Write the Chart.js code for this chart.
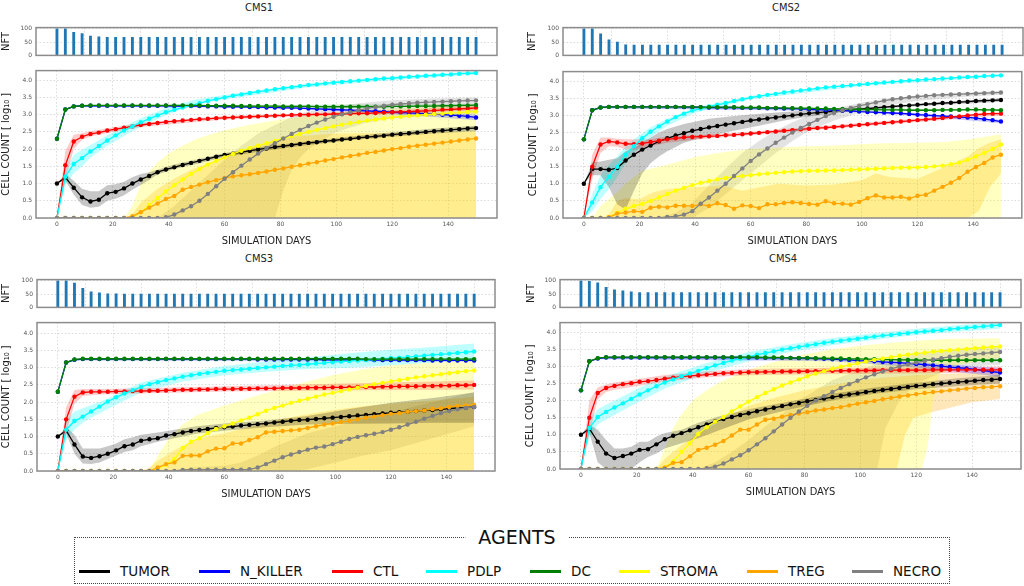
<!DOCTYPE html>
<html>
<head>
<meta charset="utf-8">
<script src="https://cdn.jsdelivr.net/npm/chart.js@4.4.1/dist/chart.umd.min.js"></script>
<style>
  body { margin: 0; width: 1024px; height: 586px; position: relative; background: #fff; overflow: hidden; }
  canvas { position: absolute; }
  .ttl { position: absolute; transform: translate(-50%, -50%); white-space: nowrap; color: #222;
         font-family: "Liberation Sans Narrow", "DejaVu Sans Condensed", Roboto, sans-serif; font-size: 11px; }
  #legend { position: absolute; left: 74px; top: 537px; width: 876px; height: 47px; border: 1px dotted #444; box-sizing: border-box; }
  #legendTitle { position: absolute; left: 517px; top: 537px; transform: translate(-50%, -50%); background: #fff;
                 padding: 0 13px; font-family: "DejaVu Sans"; font-size: 19px; color: #111; }
  .lgLine { position: absolute; width: 31px; height: 3px; }
  .lgText { position: absolute; transform: translateY(-50%); font-family: "DejaVu Sans"; font-size: 13.5px; color: #111; white-space: nowrap; }
</style>
</head>
<body>
<div id="legend"></div>
<div id="legendTitle">AGENTS</div>
<script>
// simulation days (every 3 days)
const days = [0,3,6,9,12,15,18,21,24,27,30,33,36,39,42,45,48,51,54,57,60,63,66,69,72,75,78,81,84,87,90,93,96,99,102,105,108,111,114,117,120,123,126,129,132,135,138,141,144,147,150];
const xTicks = [0,20,40,60,80,100,120,140];
const yTicks = [0,0.5,1,1.5,2,2.5,3,3.5,4];
const nftTicks = [0,50,100];

const names  = ['TUMOR','N_KILLER','CTL','PDLP','DC','STROMA','TREG','NECRO'];
const colors = ['#000000','#0000ff','#ff0000','#00ffff','#008000','#ffff00','#ffa500','#808080'];
const bandAlpha = [0.22,0.2,0.2,0.25,0.2,0.24,0.27,0.22];

// ---------- CMS1 ----------
const cms1Nft = [100,100,87,82,73,70,68,68,68,68, 68,68,68,68,68,68,68,68,68,68, 68,68,68,68,68,68,68,68,68,68, 68,68,68,68,68,68,68,68,68,68, 68,68,68,68,68,68,68,68,68,68,68];
const cms1Tumor = [1.00,1.18,0.88,0.60,0.48,0.53,0.72,0.76,0.86,1.00, 1.12,1.22,1.33,1.41,1.47,1.54,1.60,1.66,1.72,1.78, 1.83,1.87,1.91,1.95,1.99,2.02,2.06,2.09,2.12,2.15, 2.18,2.20,2.23,2.25,2.28,2.30,2.33,2.35,2.37,2.39, 2.42,2.44,2.46,2.48,2.50,2.52,2.54,2.56,2.58,2.60,2.61];
const cms1Nk = [2.30,3.15,3.24,3.26,3.26,3.26,3.26,3.26,3.26,3.26, 3.26,3.26,3.26,3.26,3.25,3.25,3.25,3.25,3.24,3.24, 3.23,3.23,3.23,3.22,3.22,3.21,3.21,3.20,3.20,3.19, 3.18,3.17,3.16,3.15,3.14,3.13,3.12,3.11,3.10,3.09, 3.07,3.06,3.05,3.04,3.03,3.02,3.00,2.99,2.97,2.95,2.92];
const cms1Ctl = [0.00,1.53,2.22,2.36,2.44,2.48,2.54,2.58,2.62,2.66, 2.70,2.73,2.76,2.79,2.81,2.83,2.85,2.87,2.88,2.90, 2.91,2.92,2.93,2.94,2.95,2.96,2.97,2.98,2.99,3.00, 3.00,3.01,3.01,3.02,3.02,3.03,3.04,3.04,3.05,3.06, 3.07,3.08,3.09,3.10,3.11,3.12,3.14,3.15,3.17,3.18,3.20];
const cms1Pdlp = [0.00,1.20,1.57,1.74,1.93,2.09,2.25,2.40,2.54,2.66, 2.78,2.88,2.98,3.07,3.14,3.21,3.27,3.33,3.40,3.45, 3.50,3.55,3.59,3.63,3.67,3.70,3.74,3.77,3.80,3.83, 3.86,3.88,3.91,3.93,3.95,3.97,3.99,4.01,4.03,4.05, 4.06,4.08,4.10,4.11,4.13,4.14,4.16,4.17,4.19,4.20,4.21];
const cms1Dc = [2.30,3.15,3.24,3.26,3.27,3.27,3.27,3.27,3.27,3.27, 3.27,3.27,3.27,3.27,3.27,3.27,3.27,3.27,3.26,3.26, 3.26,3.26,3.25,3.25,3.25,3.25,3.25,3.24,3.24,3.24, 3.24,3.23,3.23,3.23,3.23,3.23,3.23,3.23,3.23,3.23, 3.24,3.24,3.24,3.25,3.25,3.25,3.26,3.26,3.27,3.27,3.28];
const cms1Stroma = [0,0,0,0,0,0,0,0,0,0.02, 0.17,0.38,0.58,0.77,0.95,1.12,1.28,1.42,1.55,1.66, 1.76,1.86,1.95,2.03,2.10,2.17,2.24,2.31,2.38,2.44, 2.50,2.56,2.61,2.66,2.71,2.75,2.79,2.83,2.86,2.89, 2.92,2.94,2.96,2.98,3.00,3.02,3.03,3.05,3.06,3.08,3.09];
const cms1Treg = [0,0,0,0,0,0,0,0,0,0.05, 0.17,0.30,0.42,0.55,0.64,0.82,0.90,0.97,1.04,1.10, 1.16,1.21,1.24,1.27,1.31,1.35,1.40,1.44,1.49,1.53, 1.58,1.62,1.67,1.71,1.76,1.80,1.84,1.89,1.92,1.96, 2.00,2.03,2.07,2.10,2.13,2.16,2.19,2.22,2.25,2.28,2.31];
const cms1Necro = [0,0,0,0,0,0,0,0,0,0, 0,0,0,0.02,0.10,0.22,0.34,0.50,0.70,0.92, 1.14,1.33,1.52,1.70,1.87,2.03,2.17,2.31,2.44,2.56, 2.67,2.77,2.86,2.94,3.01,3.07,3.13,3.18,3.22,3.26, 3.29,3.31,3.33,3.35,3.36,3.37,3.38,3.39,3.40,3.41,3.41];
// spread bands: [day, low, high]
const cms1TumorBand = [[0,1,1],[3,1.08,1.28],[6,0.68,1.08],[9,0.38,0.85],[12,0.3,0.78],[15,0.33,0.78],[18,0.5,0.95],[21,0.56,0.98],[24,0.66,1.05],[27,0.82,1.18],[30,0.96,1.28],[33,1.1,1.33],[36,1.26,1.4],[42,1.42,1.55],[50,1.57,1.7],[60,1.77,1.89],[75,1.96,2.08],[90,2.12,2.23],[105,2.26,2.37],[120,2.36,2.49],[135,2.45,2.6],[150,2.52,2.68]];
const cms1NkBand = [[0,2.3,2.3],[3,3.13,3.17],[6,3.22,3.26],[60,3.21,3.25],[90,3.15,3.21],[120,3.02,3.12],[150,2.84,3.0]];
const cms1CtlBand = [[0,0,0],[3,1.1,1.95],[6,2.0,2.42],[9,2.27,2.46],[12,2.37,2.52],[15,2.42,2.56],[30,2.64,2.76],[60,2.86,2.96],[90,2.96,3.04],[120,3.02,3.12],[150,3.13,3.27]];
const cms1PdlpBand = [[0,0,0],[3,0.95,1.4],[6,1.3,1.82],[9,1.5,1.98],[12,1.75,2.12],[18,2.1,2.4],[24,2.38,2.66],[30,2.65,2.9],[40,3.02,3.22],[50,3.3,3.45],[60,3.45,3.57],[90,3.8,3.91],[120,4.01,4.11],[150,4.16,4.26]];
const cms1DcBand = [[0,2.3,2.3],[3,3.13,3.17],[6,3.22,3.26],[150,3.25,3.31]];
const cms1StromaBand = [[24,0,0],[27,0,0.35],[30,0,1.0],[33,0,1.35],[36,0,1.62],[40,0,1.88],[45,0,2.1],[50,0,2.3],[60,0,2.55],[70,0,2.72],[80,0,2.86],[90,0,2.97],[100,0,3.06],[110,0,3.13],[120,0,3.18],[135,0,3.22],[150,0,3.25]];
const cms1TregBand = [[24,0,0],[27,0,0.1],[30,0,0.45],[36,0,0.85],[42,0,1.15],[48,0,1.4],[54,0,1.6],[60,0,1.78],[66,0,1.93],[72,0,2.08],[78,0,2.22],[84,0,2.36],[100,0,2.45],[120,0,2.47],[150,0,2.52]];
const cms1NecroBand = [[36,0,0],[42,0,0.35],[48,0,0.8],[54,0,1.25],[60,0,1.7],[66,0,2.1],[72,0,2.45],[78,0,2.7],[81,0.8,2.82],[84,1.4,2.95],[87,1.75,3.03],[90,2.0,3.1],[100,2.5,3.25],[110,2.75,3.35],[120,2.9,3.42],[135,2.97,3.47],[150,3.0,3.5]];

// ---------- CMS2 ----------
const cms2Nft = [100,100,81,59,50,40,39,39,39,39, 39,39,39,39,39,39,39,39,39,39, 39,39,39,39,39,39,39,39,39,39, 39,39,39,39,39,39,39,39,39,39, 39,39,39,39,39,39,39,39,39,39,39];
const cms2Tumor = [1.00,1.43,1.43,1.41,1.46,1.68,1.85,2.00,2.12,2.24, 2.33,2.41,2.48,2.55,2.60,2.65,2.69,2.73,2.77,2.81, 2.85,2.88,2.91,2.94,2.97,3.00,3.03,3.06,3.08,3.10, 3.12,3.14,3.16,3.18,3.20,3.22,3.24,3.26,3.28,3.29, 3.31,3.33,3.34,3.36,3.37,3.39,3.40,3.42,3.43,3.44,3.45];
const cms2Nk = [2.30,3.15,3.23,3.25,3.25,3.25,3.25,3.25,3.25,3.25, 3.25,3.25,3.24,3.24,3.24,3.23,3.23,3.23,3.23,3.22, 3.22,3.22,3.21,3.21,3.20,3.20,3.19,3.18,3.17,3.16, 3.15,3.14,3.13,3.11,3.10,3.09,3.08,3.07,3.06,3.04, 3.02,3.01,2.99,2.98,2.97,2.95,2.94,2.92,2.89,2.86,2.82];
const cms2Ctl = [0.00,1.50,2.15,2.24,2.21,2.17,2.16,2.18,2.22,2.26, 2.30,2.33,2.36,2.37,2.38,2.39,2.40,2.42,2.43,2.45, 2.47,2.49,2.51,2.53,2.55,2.57,2.59,2.61,2.63,2.64, 2.66,2.68,2.70,2.72,2.74,2.76,2.78,2.80,2.82,2.84, 2.86,2.88,2.90,2.92,2.95,2.97,3.00,3.02,3.04,3.05,3.05];
const cms2Pdlp = [0.00,0.45,0.90,1.20,1.50,1.85,2.10,2.33,2.52,2.68, 2.82,2.95,3.05,3.14,3.20,3.26,3.31,3.36,3.42,3.47, 3.52,3.56,3.60,3.63,3.67,3.70,3.73,3.76,3.79,3.82, 3.84,3.86,3.88,3.90,3.92,3.94,3.96,3.98,4.00,4.02, 4.03,4.05,4.06,4.08,4.09,4.11,4.12,4.13,4.15,4.16,4.17];
const cms2Dc = [2.30,3.15,3.23,3.25,3.25,3.25,3.25,3.25,3.25,3.25, 3.25,3.25,3.25,3.25,3.24,3.24,3.24,3.24,3.24,3.23, 3.23,3.23,3.22,3.22,3.22,3.21,3.21,3.21,3.20,3.20, 3.19,3.19,3.18,3.18,3.17,3.17,3.16,3.16,3.16,3.15, 3.15,3.15,3.15,3.16,3.16,3.16,3.17,3.17,3.16,3.16,3.15];
const cms2Stroma = [0,0,0,0.02,0.15,0.27,0.35,0.41,0.50,0.60, 0.70,0.80,0.88,0.96,1.03,1.08,1.13,1.17,1.20,1.23, 1.25,1.28,1.30,1.32,1.34,1.36,1.37,1.38,1.38,1.39, 1.39,1.40,1.41,1.42,1.43,1.44,1.45,1.46,1.47,1.47, 1.48,1.49,1.51,1.53,1.57,1.62,1.70,1.80,1.90,2.02,2.15];
const cms2Treg = [0,0,0,0.02,0.13,0.16,0.20,0.18,0.30,0.33, 0.31,0.36,0.36,0.35,0.40,0.35,0.43,0.38,0.27,0.37, 0.35,0.29,0.40,0.40,0.44,0.46,0.44,0.41,0.39,0.49, 0.43,0.42,0.39,0.47,0.58,0.66,0.60,0.60,0.62,0.57, 0.65,0.68,0.80,0.91,1.03,1.17,1.35,1.49,1.61,1.77,1.85];
const cms2Necro = [0,0,0,0,0,0,0,0,0,0, 0.03,0.05,0.10,0.20,0.42,0.60,0.80,1.00,1.23,1.45, 1.67,1.86,2.03,2.20,2.35,2.50,2.63,2.75,2.87,2.98, 3.07,3.15,3.22,3.28,3.33,3.38,3.43,3.47,3.50,3.53, 3.55,3.57,3.59,3.60,3.61,3.62,3.63,3.64,3.65,3.66,3.67];
const cms2TumorBand = [[0,1,1],[3,1.25,1.62],[6,1.25,1.65],[9,0.9,1.7],[12,0.4,1.75],[15,0.25,1.95],[18,0.8,2.05],[21,1.3,2.2],[24,1.6,2.35],[27,1.8,2.5],[30,1.95,2.6],[36,2.2,2.75],[45,2.4,2.9],[54,2.55,2.98],[63,2.7,3.05],[72,2.85,3.1],[81,2.97,3.15],[90,3.07,3.18],[100,3.15,3.22],[120,3.27,3.35],[150,3.4,3.5]];
const cms2NkBand = [[0,2.3,2.3],[3,3.13,3.17],[6,3.21,3.25],[90,3.13,3.19],[120,2.98,3.06],[150,2.77,2.87]];
const cms2CtlBand = [[0,0,0],[3,1.15,1.85],[6,1.9,2.35],[9,2.1,2.35],[12,2.08,2.32],[15,2.0,2.3],[18,2.0,2.3],[24,2.1,2.3],[30,2.2,2.38],[45,2.33,2.44],[60,2.42,2.52],[90,2.62,2.72],[120,2.81,2.91],[150,3.0,3.1]];
const cms2PdlpBand = [[0,0,0],[3,0.2,0.7],[6,0.55,1.25],[9,0.85,1.55],[12,1.2,1.8],[15,1.6,2.1],[18,1.9,2.3],[24,2.35,2.65],[30,2.7,2.9],[40,3.08,3.22],[60,3.47,3.57],[100,3.86,3.94],[150,4.13,4.21]];
const cms2DcBand = [[0,2.3,2.3],[3,3.13,3.17],[6,3.21,3.25],[150,3.12,3.18]];
const cms2StromaBand = [[3,0,0],[6,0,0.35],[9,0,0.55],[12,0,0.75],[15,0,1.0],[18,0,1.2],[21,0,1.38],[27,0,1.5],[33,0,1.62],[40,0,1.78],[50,0,1.92],[60,0,2.02],[75,0,2.08],[90,0,2.12],[105,0,2.18],[120,0,2.2],[130,0,2.22],[140,0,2.32],[150,0,2.45]];
const cms2TregBand = [[6,0,0],[9,0,0.1],[12,0,0.5],[15,0,0.58],[20,0,0.55],[25,0,0.75],[30,0,0.85],[40,0,0.9],[50,0,0.95],[57,0,0.8],[63,0,0.9],[70,0,1.0],[80,0,0.95],[90,0,0.98],[100,0,1.1],[105,0,1.3],[110,0,1.2],[120,0,1.15],[130,0,1.5],[138,0,1.8],[142,0.2,2.05],[146,0.9,2.2],[150,1.3,2.3]];
const cms2NecroBand = [[27,0,0],[33,0,0.15],[39,0,0.45],[45,0.3,0.95],[51,0.7,1.45],[57,1.1,1.9],[63,1.5,2.25],[69,1.9,2.55],[75,2.25,2.8],[81,2.55,3.0],[90,2.85,3.2],[100,3.1,3.38],[110,3.3,3.5],[120,3.42,3.58],[135,3.53,3.66],[150,3.6,3.72]];

// ---------- CMS3 ----------
const cms3Nft = [100,100,92,72,59,55,51,51,50,50, 50,50,50,50,50,50,50,50,50,50, 50,50,50,50,50,50,50,50,50,50, 50,50,50,50,50,50,50,50,50,50, 50,50,50,50,50,50,50,50,50,50,50];
const cms3Tumor = [1.00,1.18,0.77,0.42,0.38,0.43,0.50,0.60,0.72,0.77, 0.88,0.92,0.95,1.03,1.07,1.12,1.16,1.19,1.22,1.25, 1.27,1.29,1.32,1.34,1.36,1.38,1.41,1.43,1.46,1.48, 1.49,1.51,1.53,1.55,1.57,1.59,1.61,1.63,1.65,1.67, 1.69,1.71,1.72,1.74,1.76,1.77,1.79,1.81,1.83,1.84,1.86];
const cms3Nk = [2.30,3.15,3.23,3.25,3.25,3.25,3.25,3.25,3.25,3.25, 3.25,3.25,3.25,3.25,3.25,3.25,3.25,3.25,3.25,3.25, 3.25,3.25,3.25,3.25,3.24,3.24,3.24,3.24,3.24,3.24, 3.24,3.24,3.23,3.23,3.23,3.23,3.23,3.23,3.22,3.22, 3.22,3.22,3.22,3.22,3.22,3.21,3.21,3.21,3.21,3.21,3.21];
const cms3Ctl = [0.00,1.50,2.16,2.28,2.30,2.30,2.30,2.31,2.31,2.32, 2.32,2.33,2.33,2.34,2.35,2.36,2.36,2.37,2.37,2.38, 2.38,2.38,2.39,2.39,2.40,2.40,2.40,2.41,2.41,2.41, 2.42,2.42,2.42,2.43,2.43,2.43,2.44,2.44,2.44,2.45, 2.45,2.46,2.46,2.46,2.47,2.47,2.48,2.48,2.49,2.49,2.50];
const cms3Pdlp = [0.00,1.20,1.45,1.58,1.73,1.87,2.02,2.14,2.25,2.35, 2.44,2.52,2.58,2.64,2.69,2.74,2.78,2.82,2.85,2.88, 2.91,2.93,2.95,2.97,2.99,3.01,3.03,3.05,3.07,3.08, 3.10,3.12,3.14,3.16,3.18,3.19,3.21,3.22,3.24,3.26, 3.28,3.29,3.31,3.33,3.35,3.37,3.39,3.41,3.43,3.45,3.47];
const cms3Dc = [2.30,3.15,3.24,3.26,3.26,3.26,3.26,3.26,3.26,3.26, 3.26,3.26,3.26,3.26,3.26,3.26,3.26,3.26,3.26,3.26, 3.26,3.26,3.26,3.26,3.26,3.26,3.26,3.26,3.26,3.26, 3.26,3.26,3.26,3.26,3.26,3.26,3.26,3.25,3.25,3.25, 3.25,3.25,3.25,3.25,3.25,3.25,3.25,3.25,3.25,3.25,3.25];
const cms3Stroma = [0,0,0,0,0,0,0,0,0,0, 0,0,0.08,0.18,0.35,0.67,0.85,0.95,1.10,1.22, 1.30,1.38,1.47,1.55,1.65,1.75,1.83,1.90,1.98,2.04, 2.10,2.16,2.22,2.27,2.32,2.37,2.42,2.47,2.52,2.56, 2.60,2.64,2.68,2.72,2.75,2.78,2.81,2.84,2.87,2.90,2.92];
const cms3Treg = [0,0,0,0,0,0,0,0,0,0, 0,0,0.10,0.20,0.25,0.44,0.45,0.45,0.57,0.65, 0.66,0.80,0.80,0.90,0.98,1.12,1.14,1.16,1.18,1.20, 1.25,1.30,1.35,1.38,1.42,1.45,1.50,1.55,1.58,1.62, 1.66,1.68,1.72,1.74,1.76,1.80,1.82,1.86,1.89,1.90,1.92];
const cms3Necro = [0,0,0,0,0,0,0,0,0,0, 0,0,0,0,0,0.03,0.04,0.04,0.04,0.04, 0.04,0.04,0.04,0.05,0.10,0.20,0.30,0.40,0.48,0.55, 0.62,0.68,0.71,0.78,0.85,0.93,0.99,1.04,1.08,1.13, 1.20,1.27,1.35,1.43,1.52,1.60,1.68,1.74,1.79,1.83,1.86];
const cms3TumorBand = [[0,1,1],[3,1.08,1.28],[6,0.5,1.05],[9,0.22,0.65],[12,0.2,0.65],[15,0.25,0.65],[18,0.35,0.72],[21,0.45,0.8],[24,0.55,0.92],[27,0.6,0.98],[30,0.72,1.05],[36,0.85,1.12],[42,0.95,1.2],[50,1.08,1.3],[60,1.17,1.38],[75,1.27,1.47],[90,1.35,1.6],[105,1.37,1.8],[120,1.38,1.98],[135,1.4,2.12],[150,1.4,2.28]];
const cms3NkBand = [[0,2.3,2.3],[3,3.13,3.17],[6,3.21,3.25],[150,3.17,3.25]];
const cms3CtlBand = [[0,0,0],[3,1.1,1.85],[6,1.95,2.35],[9,2.18,2.38],[15,2.22,2.38],[30,2.25,2.4],[60,2.31,2.46],[90,2.33,2.52],[120,2.35,2.57],[150,2.37,2.63]];
const cms3PdlpBand = [[0,0,0],[3,0.9,1.5],[6,1.2,1.72],[9,1.4,1.82],[12,1.55,1.92],[18,1.8,2.1],[24,2.05,2.35],[30,2.28,2.57],[45,2.6,2.85],[60,2.78,3.05],[75,2.88,3.18],[90,2.96,3.3],[105,3.0,3.42],[120,3.07,3.52],[135,3.15,3.6],[150,3.22,3.7]];
const cms3DcBand = [[0,2.3,2.3],[3,3.13,3.17],[6,3.22,3.26],[150,3.22,3.28]];
const cms3StromaBand = [[30,0,0],[33,0,0.05],[36,0,0.45],[40,0,0.95],[45,0,1.35],[50,0,1.62],[60,0,1.9],[70,0,2.15],[80,0,2.38],[90,0,2.6],[100,0,2.8],[110,0,2.95],[120,0,3.07],[135,0,3.15],[150,0,3.2]];
const cms3TregBand = [[30,0,0],[33,0,0.1],[36,0,0.3],[42,0,0.6],[48,0,0.85],[54,0,1.0],[60,0,1.1],[70,0,1.3],[80,0,1.5],[90,0,1.65],[100,0,1.78],[110,0,1.88],[120,0,1.95],[135,0,2.05],[150,0,2.15]];
const cms3NecroBand = [[42,0,0],[48,0,0.1],[60,0,0.15],[66,0,0.25],[72,0,0.45],[78,0,0.7],[84,0,0.9],[90,0.05,1.1],[100,0.25,1.3],[110,0.45,1.5],[120,0.6,1.7],[135,0.95,2.0],[150,1.3,2.3]];

// ---------- CMS4 ----------
const cms4Nft = [100,98,93,76,66,63,59,56,56,56, 56,56,56,56,56,56,56,56,56,56, 56,56,56,56,56,56,56,56,56,56, 56,56,56,56,56,56,56,56,56,56, 56,56,56,56,56,56,56,56,56,56,56];
const cms4Tumor = [1.00,1.18,0.80,0.45,0.32,0.38,0.45,0.56,0.58,0.72, 0.87,0.97,1.05,1.13,1.22,1.30,1.39,1.46,1.52,1.58, 1.63,1.69,1.74,1.79,1.84,1.89,1.93,1.98,2.02,2.06, 2.10,2.14,2.18,2.21,2.25,2.28,2.31,2.34,2.37,2.40, 2.43,2.45,2.48,2.50,2.52,2.54,2.56,2.58,2.60,2.61,2.63];
const cms4Nk = [2.30,3.15,3.23,3.26,3.26,3.26,3.26,3.26,3.26,3.26, 3.26,3.26,3.26,3.26,3.26,3.26,3.26,3.26,3.26,3.26, 3.26,3.26,3.25,3.25,3.25,3.25,3.24,3.24,3.23,3.22, 3.21,3.20,3.19,3.17,3.16,3.15,3.13,3.12,3.11,3.09, 3.07,3.05,3.03,3.01,2.98,2.96,2.94,2.91,2.88,2.85,2.82];
const cms4Ctl = [0.00,1.50,2.22,2.37,2.43,2.48,2.51,2.55,2.57,2.60, 2.64,2.67,2.70,2.72,2.74,2.76,2.78,2.80,2.81,2.82, 2.83,2.83,2.84,2.84,2.85,2.85,2.85,2.86,2.86,2.87, 2.87,2.87,2.88,2.88,2.88,2.88,2.89,2.89,2.89,2.89, 2.89,2.89,2.90,2.90,2.90,2.90,2.90,2.90,2.90,2.90,2.90];
const cms4Pdlp = [0.00,1.20,1.52,1.67,1.80,1.92,2.05,2.18,2.30,2.42, 2.53,2.62,2.71,2.79,2.87,2.95,3.03,3.10,3.17,3.23, 3.28,3.34,3.39,3.44,3.49,3.53,3.57,3.61,3.65,3.69, 3.72,3.75,3.78,3.81,3.84,3.87,3.90,3.92,3.95,3.97, 4.00,4.02,4.04,4.06,4.09,4.11,4.13,4.15,4.17,4.19,4.21];
const cms4Dc = [2.30,3.15,3.24,3.27,3.27,3.27,3.27,3.27,3.27,3.27, 3.27,3.27,3.27,3.27,3.27,3.27,3.27,3.27,3.27,3.27, 3.27,3.27,3.26,3.26,3.26,3.25,3.25,3.25,3.24,3.24, 3.23,3.23,3.22,3.22,3.21,3.21,3.20,3.20,3.19,3.19, 3.18,3.18,3.18,3.18,3.18,3.18,3.18,3.18,3.18,3.18,3.18];
const cms4Stroma = [0,0,0,0,0,0,0,0,0,0, 0.05,0.22,0.50,0.75,1.03,1.22,1.38,1.52,1.68,1.83, 1.97,2.10,2.22,2.33,2.44,2.53,2.62,2.71,2.79,2.86, 2.93,2.99,3.04,3.09,3.14,3.19,3.23,3.27,3.31,3.34, 3.37,3.40,3.43,3.45,3.47,3.49,3.51,3.53,3.55,3.57,3.58];
const cms4Treg = [0,0,0,0,0,0,0,0,0,0, 0.04,0.18,0.20,0.37,0.56,0.62,0.71,0.82,0.98,1.15, 1.15,1.30,1.44,1.47,1.53,1.58,1.62,1.66,1.71,1.74, 1.78,1.81,1.86,1.91,1.95,1.99,2.04,2.08,2.12,2.15, 2.19,2.22,2.25,2.27,2.30,2.32,2.35,2.37,2.39,2.40,2.42];
const cms4Necro = [0,0,0,0,0,0,0,0,0,0, 0,0,0,0,0,0.02,0.07,0.16,0.28,0.40, 0.55,0.72,0.90,1.10,1.30,1.50,1.68,1.85,2.00,2.13, 2.25,2.37,2.48,2.58,2.68,2.77,2.85,2.93,3.00,3.06, 3.11,3.16,3.20,3.24,3.28,3.31,3.34,3.36,3.38,3.40,3.42];
const cms4TumorBand = [[0,1,1],[3,1.05,1.3],[6,0.2,1.15],[9,0,0.85],[12,0,0.6],[15,0,0.6],[18,0,0.65],[21,0.2,0.8],[24,0.35,0.8],[27,0.45,0.95],[30,0.6,1.05],[36,0.75,1.15],[42,0.9,1.35],[50,1.15,1.55],[60,1.45,1.75],[75,1.75,1.98],[90,2.0,2.2],[105,2.2,2.38],[120,2.33,2.52],[135,2.43,2.65],[150,2.5,2.75]];
const cms4NkBand = [[0,2.3,2.3],[3,3.13,3.17],[6,3.21,3.25],[90,3.15,3.24],[120,2.97,3.12],[150,2.7,2.95]];
const cms4CtlBand = [[0,0,0],[3,1.0,2.0],[6,2.05,2.38],[9,2.25,2.47],[12,2.32,2.53],[18,2.4,2.6],[30,2.55,2.75],[45,2.68,2.86],[60,2.74,2.92],[90,2.78,2.96],[120,2.8,2.97],[150,2.8,3.0]];
const cms4PdlpBand = [[0,0,0],[3,0.9,1.4],[6,1.3,1.75],[9,1.45,1.88],[12,1.58,2.0],[18,1.85,2.25],[24,2.1,2.5],[30,2.35,2.7],[45,2.8,3.1],[60,3.15,3.42],[75,3.42,3.65],[90,3.62,3.83],[105,3.78,3.97],[120,3.92,4.1],[135,4.02,4.2],[150,4.1,4.3]];
const cms4DcBand = [[0,2.3,2.3],[3,3.13,3.17],[6,3.22,3.26],[150,3.15,3.21]];
const cms4StromaBand = [[27,0,0],[30,0,0.6],[33,0,1.2],[36,0,1.6],[40,0,2.0],[45,0,2.3],[50,0,2.55],[60,0,2.9],[70,0,3.15],[80,0,3.35],[90,0,3.5],[100,0,3.6],[110,0,3.68],[122,0,3.76],[124,0.6,3.77],[126,2.0,3.78],[128,2.75,3.79],[135,3.05,3.81],[150,3.25,3.82]];
const cms4TregBand = [[27,0,0],[30,0,0.3],[36,0,0.7],[42,0,1.05],[48,0,1.3],[54,0,1.6],[60,0,1.85],[70,0,2.1],[80,0,2.3],[90,0,2.45],[100,0,2.6],[110,0,2.68],[113,0,2.7],[116,1.0,2.72],[119,1.5,2.74],[125,1.65,2.76],[130,1.75,2.78],[140,1.95,2.8],[150,2.05,2.82]];
const cms4NecroBand = [[42,0,0],[48,0,0.2],[54,0,0.5],[60,0,0.85],[66,0,1.25],[72,0,1.6],[78,0,2.0],[84,0,2.3],[90,0,2.6],[100,0,2.9],[106,0,3.08],[109,1.2,3.15],[114,2.0,3.25],[120,2.5,3.35],[130,2.85,3.48],[140,3.0,3.55],[150,3.05,3.6]];

// layout of the four panels (pixels)
const panels = [
  { name:'CMS1', col:0,   plotL:36,  plotR:497,  nftTop:22,  nftBot:61,  lineTop:65,  lineBot:218, yMax:4.28, yPad:0,  nPad:0,  tx:259, ty:7,
    nft:cms1Nft, series:[cms1Tumor,cms1Nk,cms1Ctl,cms1Pdlp,cms1Dc,cms1Stroma,cms1Treg,cms1Necro],
    bands:[cms1TumorBand,cms1NkBand,cms1CtlBand,cms1PdlpBand,cms1DcBand,cms1StromaBand,cms1TregBand,cms1NecroBand] },
  { name:'CMS2', col:512, plotL:563, plotR:1023, nftTop:22,  nftBot:61,  lineTop:66,  lineBot:218, yMax:4.28, yPad:15, nPad:14, tx:786, ty:7,
    nft:cms2Nft, series:[cms2Tumor,cms2Nk,cms2Ctl,cms2Pdlp,cms2Dc,cms2Stroma,cms2Treg,cms2Necro],
    bands:[cms2TumorBand,cms2NkBand,cms2CtlBand,cms2PdlpBand,cms2DcBand,cms2StromaBand,cms2TregBand,cms2NecroBand] },
  { name:'CMS3', col:0,   plotL:37,  plotR:495,  nftTop:274, nftBot:313, lineTop:317, lineBot:471, yMax:4.31, yPad:0,  nPad:0,  tx:259, ty:258,
    nft:cms3Nft, series:[cms3Tumor,cms3Nk,cms3Ctl,cms3Pdlp,cms3Dc,cms3Stroma,cms3Treg,cms3Necro],
    bands:[cms3TumorBand,cms3NkBand,cms3CtlBand,cms3PdlpBand,cms3DcBand,cms3StromaBand,cms3TregBand,cms3NecroBand] },
  { name:'CMS4', col:512, plotL:560, plotR:1021, nftTop:274, nftBot:313, lineTop:317, lineBot:469, yMax:4.28, yPad:12, nPad:13, tx:783, ty:258,
    nft:cms4Nft, series:[cms4Tumor,cms4Nk,cms4Ctl,cms4Pdlp,cms4Dc,cms4Stroma,cms4Treg,cms4Necro],
    bands:[cms4TumorBand,cms4NkBand,cms4CtlBand,cms4PdlpBand,cms4DcBand,cms4StromaBand,cms4TregBand,cms4NecroBand] }
];

const COND = '"Liberation Sans Narrow", "DejaVu Sans Condensed", Roboto, sans-serif';
const tickFont = { family: '"DejaVu Sans"', size: 6 };
const gridStyle = { color: '#d0d0d0', lineWidth: 0.8, drawTicks: false };
const borderStyle = { display: false, dash: [1.5, 2] };

// matplotlib-like frame around the plot area
const framePlugin = {
  id: 'frame',
  afterDraw(chart) {
    const a = chart.chartArea, ctx = chart.ctx;
    ctx.save();
    ctx.strokeStyle = '#8c8c8c';
    ctx.lineWidth = 1.5;
    ctx.strokeRect(a.left, a.top, a.right - a.left, a.bottom - a.top);
    ctx.restore();
  }
};

function rgba(hex, a) {
  const n = parseInt(hex.slice(1), 16);
  return `rgba(${n >> 16},${(n >> 8) & 255},${n & 255},${a})`;
}

function addCanvas(left, top, w, h) {
  const cv = document.createElement('canvas');
  cv.width = w; cv.height = h;
  cv.style.left = left + 'px'; cv.style.top = top + 'px';
  document.body.appendChild(cv);
  return cv;
}

function xScale(showLabels, h) {
  return {
    type: 'linear', min: -7.5, max: 157.5, offset: false,
    afterBuildTicks: s => { s.ticks = xTicks.map(v => ({ value: v })); },
    ticks: { display: showLabels, font: tickFont, color: '#555', padding: 3, autoSkip: false, maxRotation: 0 },
    grid: gridStyle, border: borderStyle,
    title: { display: showLabels, text: 'SIMULATION DAYS', font: { family: COND, size: 11 }, color: '#222', padding: 0 },
    afterFit: s => { s.height = h; }
  };
}

function drawNft(p) {
  const cv = addCanvas(p.col, p.nftTop - 2, 512, p.nftBot - p.nftTop + 4);
  new Chart(cv, {
    type: 'bar',
    data: { datasets: [{ data: days.map((d, i) => ({ x: d, y: p.nft[i] })), backgroundColor: '#1f77b4', barThickness: 2.2 }] },
    options: {
      responsive: false, animation: false,
      layout: { padding: { top: 2, bottom: 2, left: 0, right: p.col + 512 - p.plotR } },
      plugins: { legend: { display: false }, tooltip: { enabled: false } },
      scales: {
        x: xScale(false, 0),
        y: {
          min: 0, max: 105,
          afterBuildTicks: s => { s.ticks = nftTicks.map(v => ({ value: v })); },
          ticks: { font: tickFont, color: '#555', padding: 4 },
          grid: gridStyle, border: borderStyle,
          title: { display: true, text: 'NFT', font: { family: COND, size: 11 }, color: '#222', padding: { top: p.nPad, bottom: 0 } },
          afterFit: s => { s.width = p.plotL - p.col; }
        }
      }
    },
    plugins: [framePlugin]
  });
}

function drawLines(p) {
  const xH = 30;
  const cv = addCanvas(p.col, p.lineTop - 2, 512, p.lineBot - p.lineTop + 2 + xH);
  const datasets = [];
  // lines (first dataset is drawn on top, so NECRO first)
  for (let k = names.length - 1; k >= 0; k--) {
    datasets.push({
      label: names[k],
      data: days.map((d, i) => ({ x: d, y: p.series[k][i] })),
      borderColor: colors[k], backgroundColor: colors[k],
      borderWidth: 1.3, pointRadius: 2.2, pointBorderWidth: 0, pointHoverRadius: 0,
      fill: false, tension: 0
    });
  }
  // spread bands below the lines
  p.bands.forEach((band, k) => {
    datasets.push({
      data: band.map(b => ({ x: b[0], y: b[1] })),
      borderWidth: 0, pointRadius: 0, fill: false, borderColor: 'rgba(0,0,0,0)'
    });
    datasets.push({
      data: band.map(b => ({ x: b[0], y: b[2] })),
      borderWidth: 0, pointRadius: 0, borderColor: 'rgba(0,0,0,0)',
      fill: '-1', backgroundColor: rgba(colors[k], bandAlpha[k])
    });
  });

  new Chart(cv, {
    type: 'line',
    data: { datasets },
    options: {
      responsive: false, animation: false,
      layout: { padding: { top: 2, bottom: 0, left: 0, right: p.col + 512 - p.plotR } },
      plugins: { legend: { display: false }, tooltip: { enabled: false } },
      scales: {
        x: xScale(true, xH),
        y: {
          min: 0, max: p.yMax,
          afterBuildTicks: s => { s.ticks = yTicks.map(v => ({ value: v })); },
          ticks: { font: tickFont, color: '#555', padding: 4, callback: v => v.toFixed(1) },
          grid: gridStyle, border: borderStyle,
          title: { display: true, text: 'CELL COUNT [ log\u2081\u2080 ]', font: { family: COND, size: 11 }, color: '#222', padding: { top: p.yPad, bottom: 0 } },
          afterFit: s => { s.width = p.plotL - p.col; }
        }
      }
    },
    plugins: [framePlugin]
  });
}

panels.forEach(p => {
  const t = document.createElement('div');
  t.className = 'ttl';
  t.textContent = p.name;
  t.style.left = p.tx + 'px';
  t.style.top = p.ty + 'px';
  document.body.appendChild(t);
  drawNft(p);
  drawLines(p);
});

// legend entries
const legendX = [79, 199, 332, 426, 530, 619, 747, 852];
names.forEach((n, k) => {
  const ln = document.createElement('div');
  ln.className = 'lgLine';
  ln.style.left = legendX[k] + 'px';
  ln.style.top = '569.5px';
  ln.style.background = colors[k];
  document.body.appendChild(ln);
  const tx = document.createElement('div');
  tx.className = 'lgText';
  tx.textContent = n;
  tx.style.left = (legendX[k] + 41) + 'px';
  tx.style.top = '571px';
  document.body.appendChild(tx);
});
</script>
</body>
</html>
